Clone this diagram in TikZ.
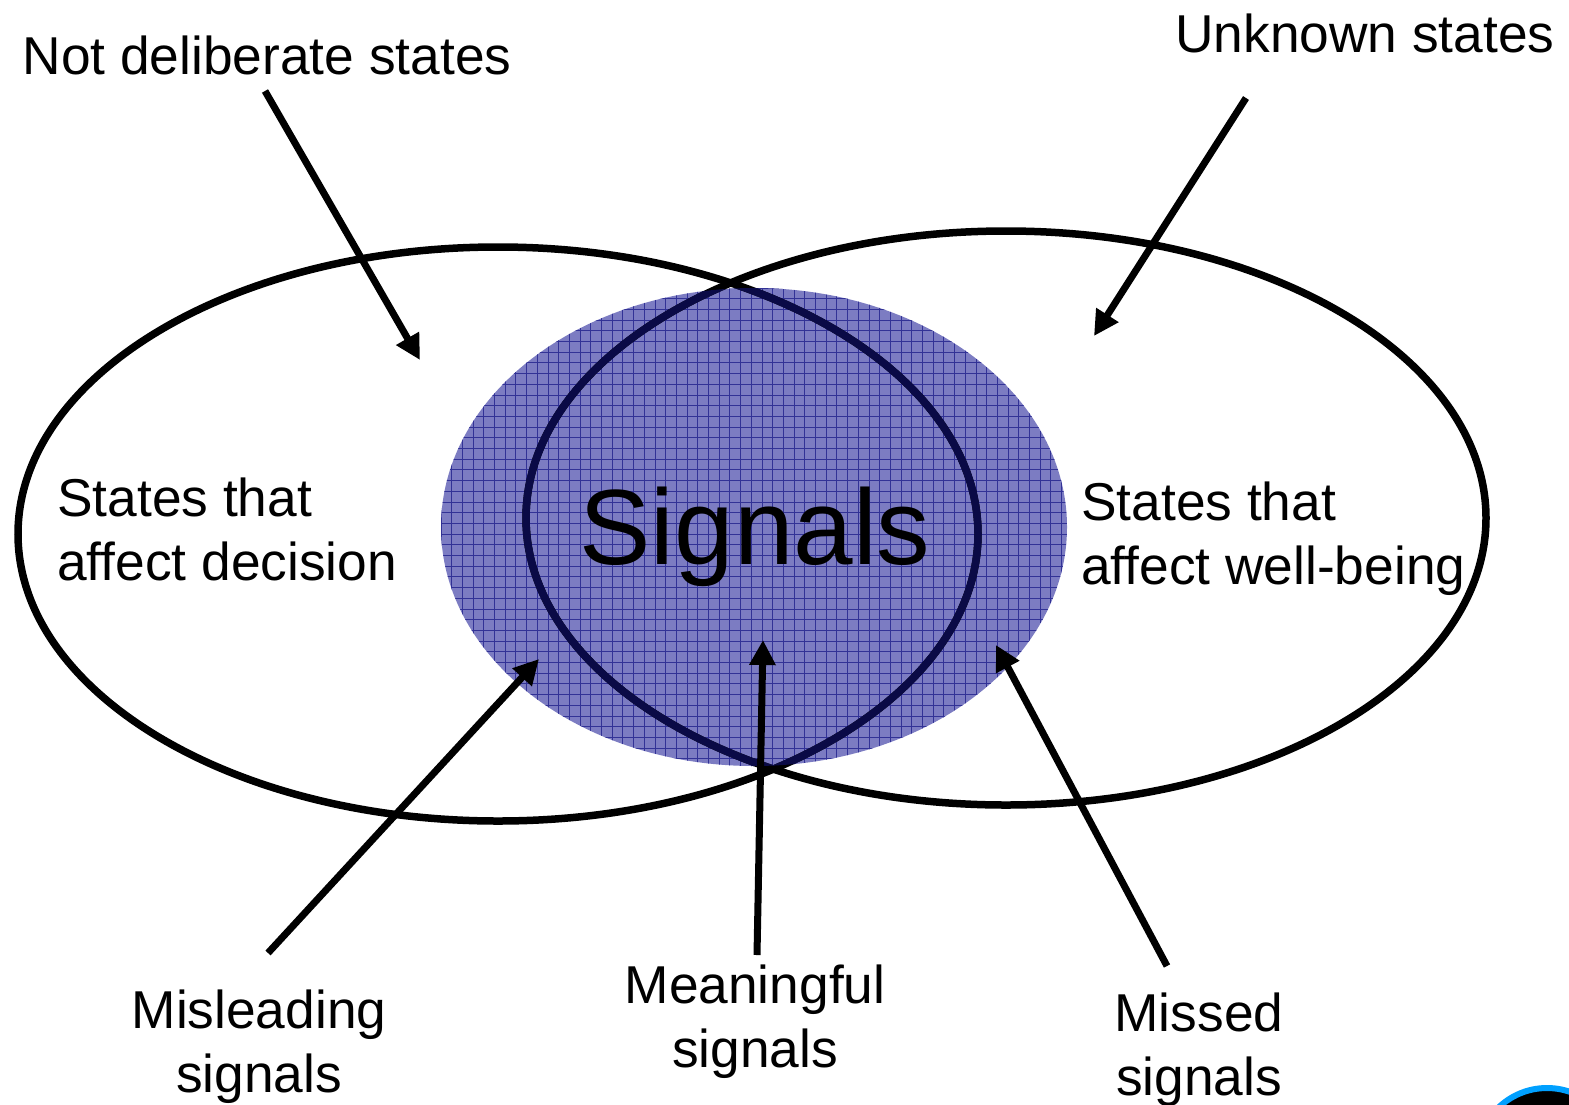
\documentclass[tikz,border=0pt]{standalone}
\usepackage{fontspec}
\setmainfont{Liberation Sans}
\usetikzlibrary{arrows.meta}
\definecolor{sig}{RGB}{124,124,194}
\definecolor{grid}{RGB}{50,50,150}
\definecolor{dk}{RGB}{10,10,70}
\definecolor{badge}{RGB}{0,160,255}
\tikzset{
 lbl/.style={inner sep=0pt,align=center,font=\fontsize{53.3}{64}\selectfont},
 lbll/.style={inner sep=0pt,align=left,font=\fontsize{53.3}{64}\selectfont},
 arr/.style={line width=7pt,-{Triangle[length=25pt,width=25pt]}},
 ring/.style={line width=7.5pt,draw=black}
}
\begin{document}
\begin{tikzpicture}[x=1pt,y=-1pt]
\useasboundingbox (0,0) rectangle (1569,1104);
\fill[white] (0,0) rectangle (1569,1104);
\fill[sig] (754,527) ellipse [x radius=313,y radius=239];
\begin{scope}
\clip (754,527) ellipse [x radius=313,y radius=239];
\foreach \x in {441,451.7,...,1070}{\draw[grid,line width=.9pt] (\x,280)--(\x,770);}
\foreach \y in {288,298.7,...,770}{\draw[grid,line width=.9pt] (440,\y)--(1070,\y);}
\end{scope}
\draw[ring] (498,534) ellipse [x radius=480,y radius=287];
\draw[ring] (1006,518) ellipse [x radius=480,y radius=287];
\begin{scope}
\clip (754,527) ellipse [x radius=313,y radius=239];
\draw[line width=7.5pt,draw=dk] (498,534) ellipse [x radius=480,y radius=287];
\draw[line width=7.5pt,draw=dk] (1006,518) ellipse [x radius=480,y radius=287];
\end{scope}
\begin{scope}
\clip (0,0) rectangle (1569,1104);
\fill[black,draw=badge,line width=6pt] (1547,1158) circle [radius=70];
\end{scope}
\node[lbl] (nd) at (267,55) {Not deliberate states};
\node[lbl] (us) at (1365,33) {Unknown states};
\node[lbll,anchor=west] (sd) at (57,529) {States that\\affect decision};
\node[lbll,anchor=west] (sw) at (1081,539) {States that\\affect well-being};
\node[inner sep=0pt,font=\fontsize{107}{110}\selectfont] (s) at (755,537) {Signals};
\node[lbl] (mis) at (259,1047) {Misleading\\signals};
\node[lbl] (mea) at (755,1022) {Meaningful\\signals};
\node[lbl] (mss) at (1199,1050) {Missed\\signals};
\coordinate (a1) at (265,91); \coordinate (a1e) at (420,360);
\coordinate (a2) at (1246,98); \coordinate (a2e) at (1094,336);
\coordinate (a3) at (268,953); \coordinate (a3e) at (539,659);
\coordinate (a4) at (757,955); \coordinate (a4e) at (763,640);
\coordinate (a5) at (1167,966); \coordinate (a5e) at (996,645);
\draw[arr] (a1)--(a1e);
\draw[arr] (a2)--(a2e);
\draw[arr] (a3)--(a3e);
\draw[arr] (a4)--(a4e);
\draw[arr] (a5)--(a5e);
\end{tikzpicture}
\end{document}
